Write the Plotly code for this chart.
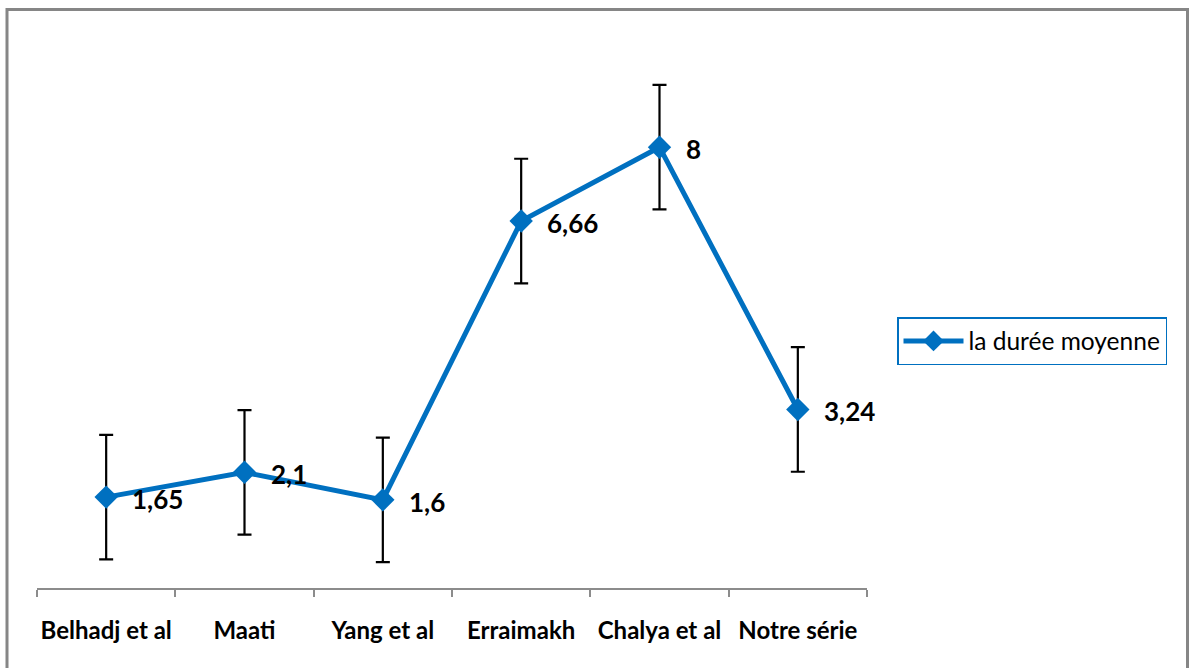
import plotly.graph_objects as go

categories = ["Belhadj et al", "Maati", "Yang et al", "Erraimakh", "Chalya et al", "Notre série"]
values = [1.65, 2.1, 1.6, 6.66, 8, 3.24]
value_labels = ["1,65", "2,1", "1,6", "6,66", "8", "3,24"]
error_se = 1.13
series_name = "la durée moyenne"

BLUE = "#0070C0"
W, H = 1189, 668
L, R, T, B = 37, 1189 - 867, 37, 668 - 588
pw, ph = W - L - R, H - T - B

fig = go.Figure()
fig.add_trace(go.Scatter(
    x=categories, y=values, name=series_name, mode="lines+markers",
    line=dict(color=BLUE, width=5),
    marker=dict(symbol="diamond", size=18, color=BLUE),
    error_y=dict(type="constant", value=error_se, color="black", thickness=2.2, width=7),
))

for c, v, t in zip(categories, values, value_labels):
    fig.add_annotation(x=c, y=v, text="<b>" + t + "</b>", showarrow=False,
                       xanchor="left", yanchor="middle", xshift=24, yshift=-2,
                       font=dict(family="Lato", size=26, color="black"))

fig.add_shape(type="rect", xref="paper", yref="paper",
              x0=(7 - L) / pw, x1=(1187.5 - L) / pw,
              y0=-0.3, y1=(588 - 9.5) / ph,
              line=dict(color="#868686", width=3), fillcolor="rgba(0,0,0,0)", layer="below")

fig.update_layout(
    width=W, height=H,
    margin=dict(l=L, r=R, t=T, b=B, autoexpand=False),
    paper_bgcolor="white", plot_bgcolor="white",
    showlegend=True,
    legend=dict(x=(897 - L) / pw, y=(588 - 341) / ph, xanchor="left", yanchor="middle",
                bordercolor=BLUE, borderwidth=1.5, bgcolor="white", itemwidth=60,
                font=dict(family="Lato", size=24.5, color="black")),
    xaxis=dict(type="category", showgrid=False, showline=True, linecolor="#8c8c8c", linewidth=1.5,
               ticks="outside", tickson="boundaries", ticklen=7, tickcolor="#8c8c8c", tickwidth=1.5,
               tickfont=dict(family="Lato", size=24, color="black", weight="bold"),
               tickangle=0, automargin=False,
               ticklabelstandoff=20, range=[-0.5, 5.5], zeroline=False),
    yaxis=dict(range=[0, 10], visible=False, showgrid=False, zeroline=False),
)

fig.write_html("out.html", config={"displayModeBar": False},
               post_script="document.body.style.margin='0';document.body.style.overflow='hidden';")
